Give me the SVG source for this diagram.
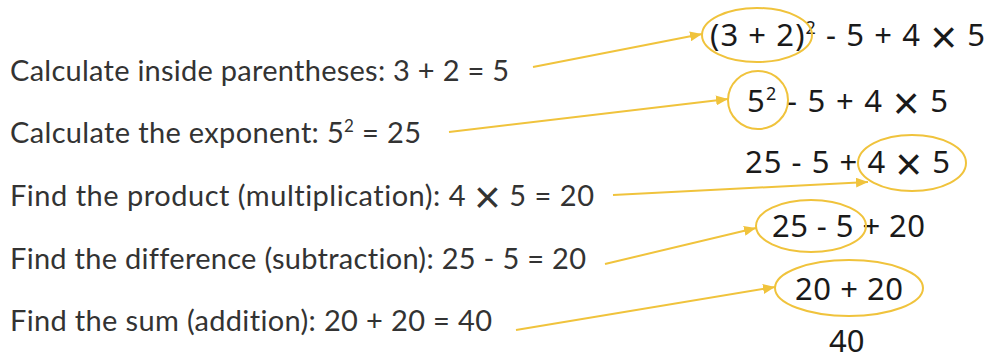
<svg xmlns="http://www.w3.org/2000/svg" width="992" height="360" viewBox="0 0 992 360">
<style>
.lt{font-family:Lato,"Open Sans",sans-serif;font-size:29px;fill:#333333;font-variant-ligatures:none}
.rt{font-family:"Noto Sans","Open Sans",sans-serif;font-size:31px;fill:#1a1a1a}
.x{font-family:"Liberation Sans",sans-serif;font-weight:normal;font-size:46px}
.ring{fill:none;stroke:#f0c33c;stroke-width:2}
.arr{fill:none;stroke:#f0c33c;stroke-width:2;marker-end:url(#ah)}
</style>
<defs>
<marker id="ah" markerUnits="userSpaceOnUse" markerWidth="14" markerHeight="10" refX="12" refY="5" orient="auto">
<path d="M0,0 L12,5 L0,10 Z" fill="#f0c33c"/>
</marker>
</defs>
<rect width="992" height="360" fill="#ffffff"/>
<g id="step1">
<text class="lt" x="10" y="81" textLength="499">Calculate inside parentheses: 3 + 2 = 5</text>
</g>
<g id="step2">
<text class="lt" x="10" y="143" textLength="411">Calculate the exponent: 5<tspan dy="-11" font-size="17">2</tspan><tspan dy="11"> = 25</tspan></text>
</g>
<g id="step3">
<text class="lt" x="10" y="206" textLength="584">Find the product (multiplication): 4 <tspan class="x" dy="7">×</tspan><tspan dy="-7"> 5 = 20</tspan></text>
</g>
<g id="step4">
<text class="lt" x="10" y="269" textLength="576">Find the difference (subtraction): 25 - 5 = 20</text>
</g>
<g id="step5">
<text class="lt" x="10" y="331" textLength="482">Find the sum (addition): 20 + 20 = 40</text>
</g>
<g id="expr1">
<text class="rt" x="710" y="46" textLength="275">(3 + 2)<tspan dy="-12" font-size="18">2</tspan><tspan dy="12"> - 5 + 4 </tspan><tspan class="x" dy="7">×</tspan><tspan dy="-7"> 5</tspan></text>
<ellipse class="ring" cx="757" cy="35" rx="55" ry="27"/>
</g>
<g id="expr2">
<text class="rt" x="747" y="112" textLength="201">5<tspan dy="-12" font-size="18">2</tspan><tspan dy="12"> - 5 + 4 </tspan><tspan class="x" dy="7">×</tspan><tspan dy="-7"> 5</tspan></text>
<ellipse class="ring" cx="758" cy="100" rx="30" ry="29"/>
</g>
<g id="expr3">
<text class="rt" x="745" y="173" textLength="205">25 - 5 + 4 <tspan class="x" dy="7">×</tspan><tspan dy="-7"> 5</tspan></text>
<ellipse class="ring" cx="912" cy="163" rx="54" ry="28"/>
</g>
<g id="expr4">
<text class="rt" x="772" y="237" textLength="153">25 - 5 + 20</text>
<ellipse class="ring" cx="811" cy="226" rx="55" ry="26"/>
</g>
<g id="expr5">
<text class="rt" x="795" y="300" textLength="108">20 + 20</text>
<ellipse class="ring" cx="849" cy="288" rx="74" ry="28"/>
</g>
<g id="expr6">
<text class="rt" x="829" y="352">40</text>
</g>
<g id="connectors">
<line class="arr" x1="533" y1="67" x2="702" y2="34"/>
<line class="arr" x1="449" y1="132" x2="728" y2="99"/>
<line class="arr" x1="613" y1="195" x2="868" y2="182"/>
<line class="arr" x1="605" y1="264" x2="756" y2="228"/>
<line class="arr" x1="516" y1="330" x2="775" y2="287"/>
</g>
</svg>
